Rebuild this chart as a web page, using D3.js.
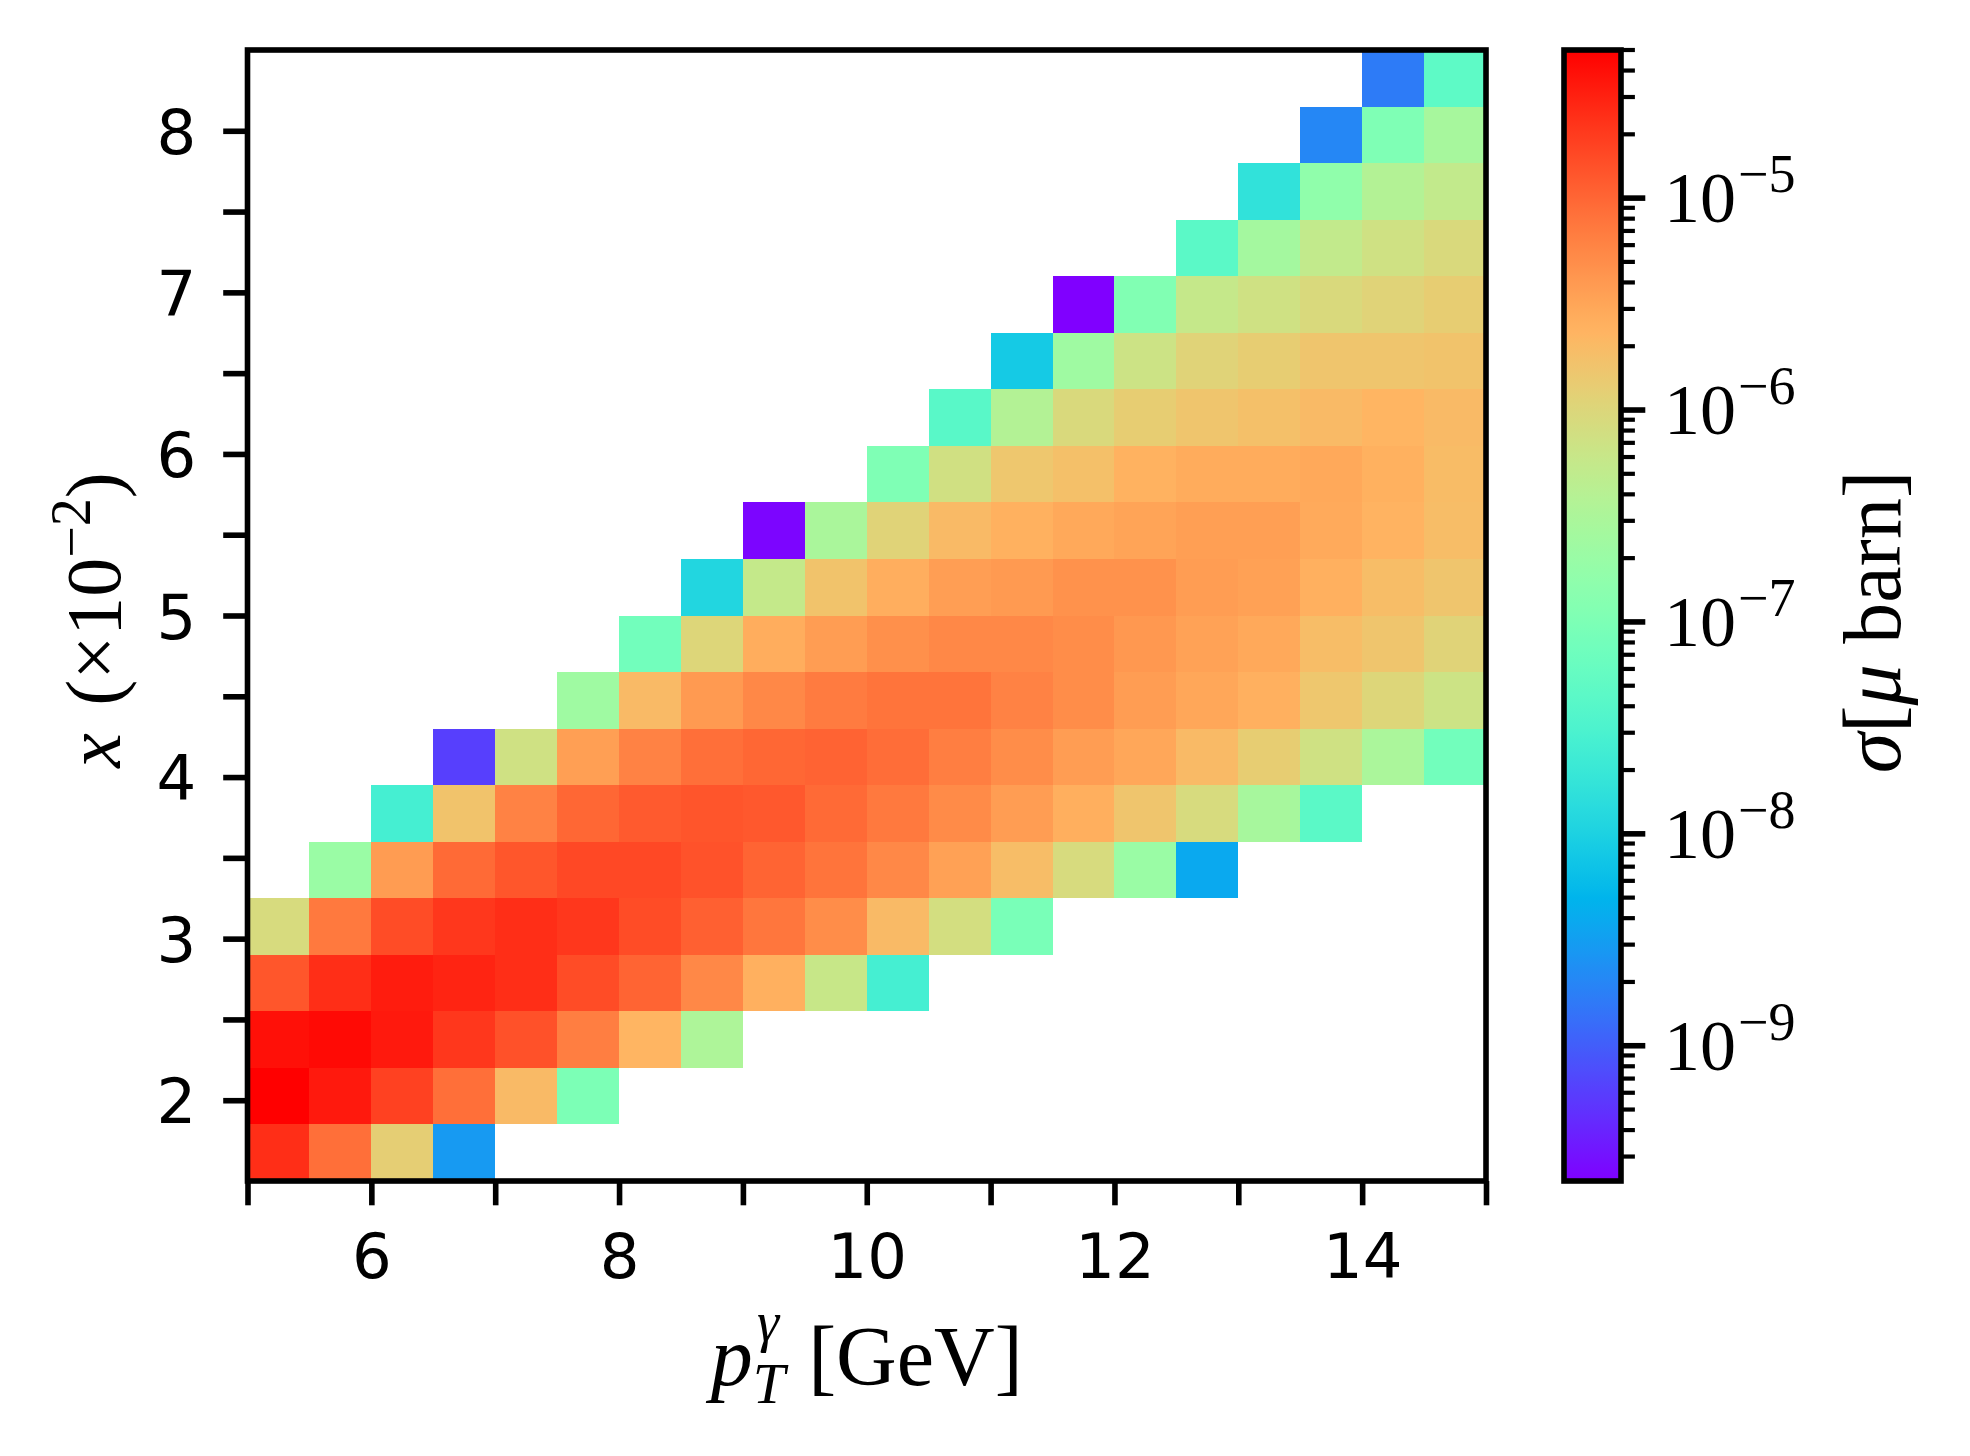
<!DOCTYPE html>
<html>
  <head>
    <meta charset="utf-8">
    <title>Cross section in pT and x bins</title>
    <script src="https://d3js.org/d3.v7.min.js"></script>
    <style>
      body { margin: 0; background: #fff; }
      svg { display: block; }
      .math { font-family: "Liberation Serif", "DejaVu Serif", serif; }
    </style>
  </head>
  <body>
    <svg id="chart" width="1970" height="1456"></svg>
    <script>
      // bin edges
      const pTEdges = [5, 5.5, 6, 6.5, 7, 7.5, 8, 8.5, 9, 9.5, 10, 10.5, 11, 11.5, 12, 12.5, 13, 13.5, 14, 14.5, 15];
      const xEdges = [1.5, 1.85, 2.2, 2.55, 2.9, 3.25, 3.6, 3.95, 4.3, 4.65, 5.0, 5.35, 5.7, 6.05, 6.4, 6.75, 7.1, 7.45, 7.8, 8.15, 8.5];
      // ticks
      const pTTicks = [5, 6, 7, 8, 9, 10, 11, 12, 13, 14, 15];
      const pTTickLabels = [6, 8, 10, 12, 14];
      const xTicks = [2, 2.5, 3, 3.5, 4, 4.5, 5, 5.5, 6, 6.5, 7, 7.5, 8];
      const xTickLabels = [2, 3, 4, 5, 6, 7, 8];
      const cbarExponents = [-9, -8, -7, -6, -5];
      const cbarMinorMult = [2, 3, 4, 5, 6, 7, 8, 9];
      // first filled pT bin of each x row (bottom row first)
      const rowStart = [0, 0, 0, 0, 0, 1, 2, 3, 5, 6, 7, 8, 10, 11, 12, 13, 15, 16, 17, 18];
      // sigma [micro barn], one list per x row, from rowStart onwards
      const sigma = [
        [2.46e-5, 8.63e-6, 1.25e-6, 2.88e-9],
        [5.0e-5, 3.39e-5, 1.81e-5, 8.63e-6, 2.02e-6, 9.89e-8],
        [3.93e-5, 4.26e-5, 3.39e-5, 2.12e-5, 1.41e-5, 6.67e-6, 2.29e-6, 3.30e-7],
        [1.31e-5, 2.46e-5, 3.23e-5, 2.89e-5, 2.46e-5, 1.54e-5, 1.03e-5, 5.55e-6, 2.55e-6, 6.04e-7, 2.61e-8],
        [8.75e-7, 7.28e-6, 1.54e-5, 2.12e-5, 2.46e-5, 2.12e-5, 1.54e-5, 1.10e-5, 7.55e-6, 5.08e-6, 2.02e-6, 8.11e-7, 9.18e-8],
        [2.04e-7, 3.83e-6, 9.42e-6, 1.31e-5, 1.62e-5, 1.62e-5, 1.38e-5, 1.03e-5, 7.93e-6, 5.55e-6, 3.48e-6, 1.92e-6, 8.75e-7, 2.04e-7, 3.89e-9],
        [2.61e-8, 1.67e-6, 6.12e-6, 9.89e-6, 1.21e-5, 1.33e-5, 1.25e-5, 9.42e-6, 7.28e-6, 5.27e-6, 3.74e-6, 2.62e-6, 1.59e-6, 8.75e-7, 2.78e-7, 4.44e-8],
        [6.11e-10, 7.36e-7, 3.61e-6, 6.12e-6, 8.63e-6, 9.89e-6, 1.05e-5, 8.95e-6, 6.67e-6, 5.08e-6, 3.74e-6, 3.07e-6, 2.02e-6, 1.31e-6, 7.36e-7, 3.07e-7, 7.76e-8],
        [2.30e-7, 2.02e-6, 3.97e-6, 5.55e-6, 6.92e-6, 7.93e-6, 7.93e-6, 6.12e-6, 5.08e-6, 3.74e-6, 3.07e-6, 2.55e-6, 1.52e-6, 1.03e-6, 6.84e-7],
        [7.76e-8, 1.03e-6, 2.72e-6, 3.74e-6, 4.79e-6, 5.55e-6, 5.55e-6, 5.08e-6, 4.13e-6, 3.39e-6, 2.96e-6, 1.92e-6, 1.59e-6, 1.10e-6],
        [1.12e-8, 5.61e-7, 1.67e-6, 2.65e-6, 3.65e-6, 3.97e-6, 4.61e-6, 4.61e-6, 3.74e-6, 3.48e-6, 2.55e-6, 1.92e-6, 1.59e-6],
        [2.5e-10, 2.99e-7, 1.10e-6, 2.02e-6, 2.49e-6, 2.96e-6, 3.27e-6, 3.61e-6, 3.61e-6, 2.85e-6, 2.40e-6, 1.92e-6],
        [1.06e-7, 7.53e-7, 1.52e-6, 1.79e-6, 2.46e-6, 2.78e-6, 2.78e-6, 2.96e-6, 2.49e-6, 1.97e-6],
        [4.25e-8, 3.73e-7, 9.35e-7, 1.31e-6, 1.59e-6, 1.79e-6, 2.02e-6, 2.29e-6, 2.02e-6],
        [8.20e-9, 2.30e-7, 6.84e-7, 1.10e-6, 1.31e-6, 1.59e-6, 1.59e-6, 1.67e-6],
        [2.3e-10, 1.12e-7, 5.75e-7, 7.36e-7, 9.35e-7, 1.10e-6, 1.31e-6],
        [4.44e-8, 2.60e-7, 5.35e-7, 7.36e-7, 9.35e-7],
        [1.61e-8, 1.60e-7, 3.73e-7, 5.35e-7],
        [2.05e-9, 1.06e-7, 2.78e-7],
        [1.66e-9, 4.78e-8]
      ];

      // layout (px)
      const plot = {left: 247.5, right: 1486, top: 50, bottom: 1181};
      const cbar = {left: 1564, right: 1621};
      const lw = 5.6, majorLen = 24.3, minorLen = 13.9;
      const tickFont = 62.5;

      // matplotlib "rainbow" colormap
      function rainbow(t) {
        const c = v => Math.max(0, Math.min(1, v)) * 255;
        return d3.rgb(c(Math.abs(2 * t - 0.5)), c(Math.sin(Math.PI * t)), c(Math.cos(Math.PI * t / 2))).toString();
      }

      const svg = d3.select("#chart");
      svg.append("rect").attr("width", 1970).attr("height", 1456).attr("fill", "#fff");

      const xs = d3.scaleLinear().domain([pTEdges[0], pTEdges[pTEdges.length - 1]]).range([plot.left, plot.right]);
      const ys = d3.scaleLinear().domain([xEdges[0], xEdges[xEdges.length - 1]]).range([plot.bottom, plot.top]);
      const color = d3.scaleSequentialLog(rainbow).domain(d3.extent(sigma.flat()));

      // cells
      const cells = [];
      sigma.forEach((row, i) => row.forEach((v, j) => {
        const k = rowStart[i] + j;
        cells.push({x0: pTEdges[k], x1: pTEdges[k + 1], y0: xEdges[i], y1: xEdges[i + 1], v: v});
      }));
      svg.append("g")
        .selectAll("rect")
          .data(cells)
        .enter().append("rect")
          .attr("x", d => xs(d.x0))
          .attr("y", d => ys(d.y1))
          .attr("width", d => xs(d.x1) - xs(d.x0))
          .attr("height", d => ys(d.y0) - ys(d.y1))
          .attr("fill", d => color(d.v))
          .attr("shape-rendering", "crispEdges");

      // axes
      const xAxis = svg.append("g")
        .attr("transform", "translate(0," + plot.bottom + ")")
        .call(d3.axisBottom(xs).tickValues(pTTicks).tickSize(majorLen).tickPadding(28)
          .tickFormat(d => pTTickLabels.includes(d) ? d : ""));
      const yAxis = svg.append("g")
        .attr("transform", "translate(" + plot.left + ",0)")
        .call(d3.axisLeft(ys).tickValues(xTicks).tickSize(majorLen).tickPadding(27)
          .tickFormat(d => xTickLabels.includes(d) ? d : ""));
      [xAxis, yAxis].forEach(a => {
        a.select(".domain").remove();
        a.attr("font-family", "'DejaVu Sans', sans-serif").attr("font-size", tickFont);
        a.selectAll("line").attr("stroke", "#000").attr("stroke-width", lw);
        a.selectAll("text").attr("fill", "#000");
      });
      yAxis.selectAll("text").attr("dy", "0.36em");

      svg.append("rect")
        .attr("x", plot.left).attr("y", plot.top)
        .attr("width", plot.right - plot.left).attr("height", plot.bottom - plot.top)
        .attr("fill", "none").attr("stroke", "#000").attr("stroke-width", lw);

      // axis labels
      const ylab = svg.append("text").attr("class", "math")
        .attr("transform", "translate(120,620) rotate(-90)")
        .attr("text-anchor", "middle").attr("font-size", 78);
      ylab.append("tspan").attr("font-style", "italic").text("x");
      ylab.append("tspan").attr("dx", 8).text(" (×10");
      ylab.append("tspan").attr("font-size", 56).attr("dy", -30).text("−2");
      ylab.append("tspan").attr("dy", 30).text(")");

      const xlab = svg.append("text").attr("class", "math")
        .attr("x", (plot.left + plot.right) / 2).attr("y", 1385)
        .attr("text-anchor", "middle").attr("font-size", 84);
      xlab.append("tspan").attr("font-style", "italic").text("p");
      xlab.append("tspan").attr("font-style", "italic").attr("font-size", 58).attr("dy", 18).text("T");
      xlab.append("tspan").attr("font-style", "italic").attr("font-size", 56).attr("dx", -28).attr("dy", -62).text("γ");
      xlab.append("tspan").attr("dx", 8).attr("dy", 44).text(" [GeV]");

      // colorbar
      const grad = svg.append("defs").append("linearGradient")
        .attr("id", "cbarGrad").attr("x1", 0).attr("y1", 1).attr("x2", 0).attr("y2", 0);
      grad.selectAll("stop")
          .data(d3.range(0, 1.0001, 0.01))
        .enter().append("stop")
          .attr("offset", d => d * 100 + "%")
          .attr("stop-color", d => rainbow(d));
      svg.append("rect")
        .attr("x", cbar.left).attr("y", plot.top)
        .attr("width", cbar.right - cbar.left).attr("height", plot.bottom - plot.top)
        .attr("fill", "url(#cbarGrad)")
        .attr("stroke", "#000").attr("stroke-width", lw);

      const cs = d3.scaleLog().domain(color.domain()).range([plot.bottom, plot.top]);
      const [vmin, vmax] = cs.domain();
      const minor = [];
      d3.range(cbarExponents[0] - 1, cbarExponents[cbarExponents.length - 1] + 1).forEach(e =>
        cbarMinorMult.forEach(m => {
          const v = m * Math.pow(10, e);
          if (v >= vmin && v <= vmax * 1.001) minor.push(v);
        }));
      const cg = svg.append("g");
      cg.selectAll(".minor")
          .data(minor)
        .enter().append("line")
          .attr("x1", cbar.right).attr("x2", cbar.right + minorLen)
          .attr("y1", d => cs(d)).attr("y2", d => cs(d))
          .attr("stroke", "#000").attr("stroke-width", 4.2);
      cg.selectAll(".major")
          .data(cbarExponents)
        .enter().append("line")
          .attr("x1", cbar.right).attr("x2", cbar.right + majorLen)
          .attr("y1", d => cs(Math.pow(10, d))).attr("y2", d => cs(Math.pow(10, d)))
          .attr("stroke", "#000").attr("stroke-width", lw);
      const cl = cg.selectAll(".clabel")
          .data(cbarExponents)
        .enter().append("text")
          .attr("class", "math")
          .attr("x", 1664).attr("y", d => cs(Math.pow(10, d)) + 24)
          .attr("font-size", 72);
      cl.append("tspan").text("10");
      cl.append("tspan").attr("font-size", 54).attr("dy", -30).attr("dx", 2).text(d => "−" + Math.abs(d));

      const clab = svg.append("text").attr("class", "math")
        .attr("transform", "translate(1900,622) rotate(-90)")
        .attr("text-anchor", "middle").attr("font-size", 82);
      clab.append("tspan").attr("font-style", "italic").text("σ");
      clab.append("tspan").text("[");
      clab.append("tspan").attr("font-style", "italic").text("μ");
      clab.append("tspan").text(" barn]");
    </script>
  </body>
</html>
